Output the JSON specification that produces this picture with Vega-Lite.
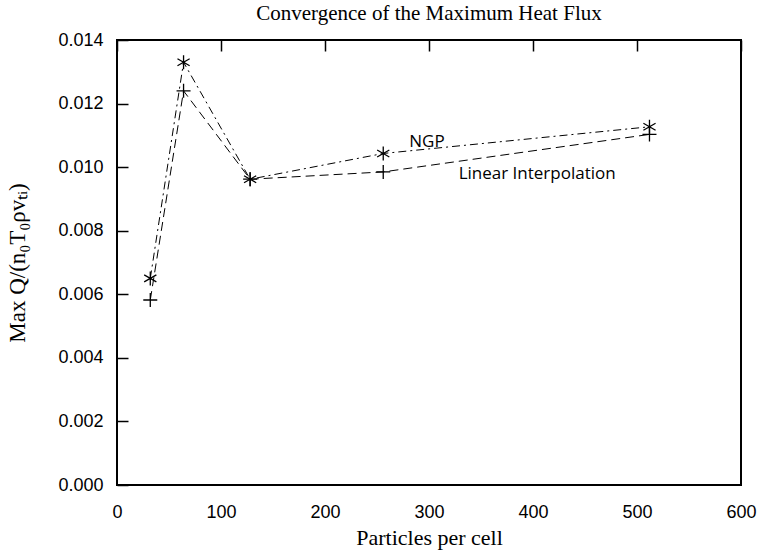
{
  "$schema": "https://vega.github.io/schema/vega-lite/v6.json",
  "width": 624,
  "height": 445,
  "autosize": {"type": "none"},
  "padding": {"left": 117, "top": 40, "right": 23, "bottom": 68},
  "background": "white",
  "title": {
    "text": "Convergence of the Maximum Heat Flux",
    "font": "Liberation Serif",
    "fontSize": 21,
    "fontWeight": "normal",
    "color": "black",
    "anchor": "middle",
    "offset": 7
  },
  "config": {
    "view": {"stroke": "black", "strokeWidth": 2},
    "axis": {
      "domain": false,
      "ticks": false,
      "tickSize": 0,
      "grid": true,
      "gridColor": "#000000",
      "gridOpacity": 1,
      "gridWidth": 1.5,
      "labelFont": "Liberation Sans",
      "labelFontSize": 18,
      "labelColor": "black",
      "titleFont": "Liberation Serif",
      "titleFontSize": 22,
      "titleFontWeight": "normal",
      "titleColor": "black"
    }
  },
  "datasets": {
    "series": [
      {"particles": 32, "maxq": 0.0065, "method": "NGP"},
      {"particles": 64, "maxq": 0.0133, "method": "NGP"},
      {"particles": 128, "maxq": 0.00962, "method": "NGP"},
      {"particles": 256, "maxq": 0.01043, "method": "NGP"},
      {"particles": 512, "maxq": 0.01127, "method": "NGP"},
      {"particles": 32, "maxq": 0.00582, "method": "Linear Interpolation"},
      {"particles": 64, "maxq": 0.0124, "method": "Linear Interpolation"},
      {"particles": 128, "maxq": 0.00962, "method": "Linear Interpolation"},
      {"particles": 256, "maxq": 0.00985, "method": "Linear Interpolation"},
      {"particles": 512, "maxq": 0.01103, "method": "Linear Interpolation"}
    ],
    "labels": [
      {"label": "NGP", "particles": 298, "maxq": 0.0108},
      {"label": "Linear Interpolation", "particles": 404, "maxq": 0.0098}
    ]
  },
  "layer": [
    {
      "data": {"name": "series"},
      "transform": [{"filter": "datum.method === 'NGP'"}],
      "mark": {"type": "line", "color": "black", "strokeWidth": 1, "strokeDash": [8, 4, 2, 4]},
      "encoding": {
        "x": {
          "field": "particles", "type": "quantitative",
          "scale": {"domain": [0, 600], "nice": false, "zero": false},
          "axis": {
            "orient": "bottom",
            "title": "Particles per cell",
            "values": [0, 100, 200, 300, 400, 500, 600],
            "gridDash": [11, 2000],
            "labelPadding": 18,
            "labelFlush": false,
            "labelOverlap": false,
            "titlePadding": 6
          }
        },
        "y": {
          "field": "maxq", "type": "quantitative",
          "scale": {"domain": [0, 0.014], "nice": false, "zero": false},
          "axis": {
            "orient": "left",
            "title": "Max Q/(n₀T₀ρvₜᵢ)",
            "titleFontSize": 23,
            "values": [0, 0.002, 0.004, 0.006, 0.008, 0.01, 0.012, 0.014],
            "format": ".3f",
            "gridDash": [11, 2000],
            "labelPadding": 14,
            "labelFlush": false,
            "labelOverlap": false,
            "titlePadding": 28
          }
        }
      }
    },
    {
      "data": {"name": "series"},
      "transform": [{"filter": "datum.method === 'Linear Interpolation'"}],
      "mark": {"type": "line", "color": "black", "strokeWidth": 1, "strokeDash": [9, 5]},
      "encoding": {
        "x": {
          "field": "particles", "type": "quantitative",
          "axis": {
            "orient": "bottom", "title": null, "labels": false,
            "values": [10,20,30,40,50,60,70,80,90,110,120,130,140,150,160,170,180,190,210,220,230,240,250,260,270,280,290,310,320,330,340,350,360,370,380,390,410,420,430,440,450,460,470,480,490,510,520,530,540,550,560,570,580,590],
            "gridDash": [5, 2000]
          }
        },
        "y": {
          "field": "maxq", "type": "quantitative",
          "axis": {
            "orient": "left", "title": null, "labels": false,
            "values": [0.0005,0.001,0.0015,0.0025,0.003,0.0035,0.0045,0.005,0.0055,0.0065,0.007,0.0075,0.0085,0.009,0.0095,0.0105,0.011,0.0115,0.0125,0.013,0.0135],
            "gridDash": [5, 2000]
          }
        }
      }
    },
    {
      "data": {"name": "series"},
      "transform": [{"filter": "datum.method === 'NGP'"}],
      "mark": {"type": "point", "filled": false, "stroke": "black", "strokeWidth": 1.3, "opacity": 1, "size": 196,
        "shape": "M0,-1L0,1M-0.87,-0.5L0.87,0.5M-0.87,0.5L0.87,-0.5M-0.2,0L0.2,0"},
      "encoding": {
        "x": {
          "field": "particles", "type": "quantitative",
          "axis": {
            "orient": "top", "title": null, "labels": false,
            "values": [0, 100, 200, 300, 400, 500, 600],
            "gridDash": [11, 2000]
          }
        },
        "y": {
          "field": "maxq", "type": "quantitative",
          "axis": {
            "orient": "right", "title": null, "labels": false,
            "values": [0, 0.002, 0.004, 0.006, 0.008, 0.01, 0.012, 0.014],
            "gridDash": [11, 2000]
          }
        }
      }
    },
    {
      "data": {"name": "series"},
      "transform": [{"filter": "datum.method === 'Linear Interpolation'"}],
      "mark": {"type": "point", "filled": false, "stroke": "black", "strokeWidth": 1.3, "opacity": 1, "size": 196,
        "shape": "M-1,0L1,0M0,-1L0,1"},
      "encoding": {
        "x": {
          "field": "particles", "type": "quantitative",
          "axis": {
            "orient": "top", "title": null, "labels": false,
            "values": [10,20,30,40,50,60,70,80,90,110,120,130,140,150,160,170,180,190,210,220,230,240,250,260,270,280,290,310,320,330,340,350,360,370,380,390,410,420,430,440,450,460,470,480,490,510,520,530,540,550,560,570,580,590],
            "gridDash": [5, 2000]
          }
        },
        "y": {
          "field": "maxq", "type": "quantitative",
          "axis": {
            "orient": "right", "title": null, "labels": false,
            "values": [0.0005,0.001,0.0015,0.0025,0.003,0.0035,0.0045,0.005,0.0055,0.0065,0.007,0.0075,0.0085,0.009,0.0095,0.0105,0.011,0.0115,0.0125,0.013,0.0135],
            "gridDash": [5, 2000]
          }
        }
      }
    },
    {
      "data": {"name": "labels"},
      "mark": {"type": "text", "font": "Open Sans", "fontSize": 17, "color": "black", "align": "center", "baseline": "middle"},
      "encoding": {
        "x": {"field": "particles", "type": "quantitative", "axis": null},
        "y": {"field": "maxq", "type": "quantitative", "axis": null},
        "text": {"field": "label"}
      }
    }
  ],
  "resolve": {"axis": {"x": "independent", "y": "independent"}}
}
